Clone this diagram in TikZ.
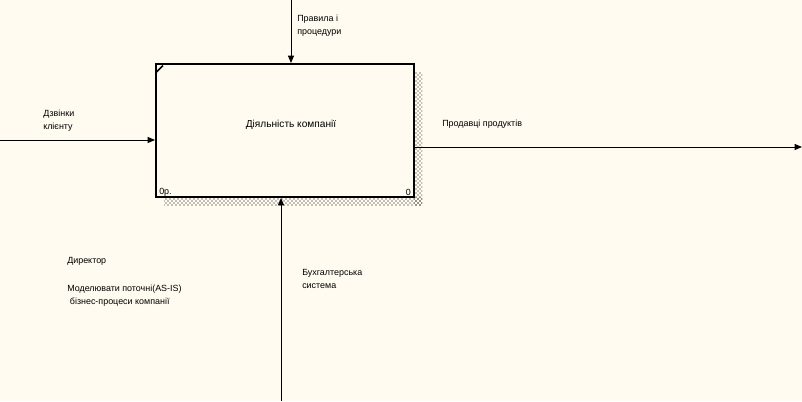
\documentclass[tikz,border=0pt]{standalone}
\usepackage{fontspec}
\setmainfont{Liberation Sans}
\usetikzlibrary{arrows.meta,patterns}
\definecolor{paper}{RGB}{255,251,240}
\tikzset{
  actbox/.style={draw=black,line width=1.5pt,fill=paper,minimum width=193.5pt,minimum height=99.75pt,inner sep=0pt},
  flow/.style={draw=black,line width=0.7pt,-{Triangle[length=5.5pt,width=4.5pt]}},
  lbl/.style={anchor=west,inner sep=0pt,align=left,font=\fontsize{6.7}{9.5}\selectfont},
  shade/.style={pattern=crosshatch dots,pattern color=black,draw=none}
}
\begin{document}
\begin{tikzpicture}[x=0.75pt,y=0.75pt,yscale=-1,xscale=1]
\useasboundingbox[fill=paper] (0,0) rectangle (802,401);

%Shadow
\path[shade] (414,72) rectangle (422,205);
\path[shade] (164,197) rectangle (422,205);

%Activity box
\node[actbox] (act) at (285,130.5) {};
\draw[line width=1.2pt] (156.5,72) -- (163,65.5);
\node[lbl,anchor=center,font=\fontsize{7.6}{10}\selectfont] (actname) at (291,125) {Діяльність компанії};
\node[lbl] (num) at (159,192) {0р.};
\node[lbl,anchor=east] (nodeno) at (411,192) {0};

%Ends of arrows
\coordinate (ctrl) at (291,0);
\coordinate (inp) at (0,140);
\coordinate (outp) at (802,147);
\coordinate (mech) at (281,401);

%Arrows
\draw[flow] (ctrl) -- (ctrl |- act.north);
\draw[flow] (inp) -- (inp -| act.west);
\draw[flow] (act.east |- outp) -- (outp);
\draw[flow] (mech) -- (mech |- act.south);

%Arrow labels
\node[lbl] (ctrllbl) at (297,26) {Правила і\\процедури};
\node[lbl] (inplbl) at (43,121) {Дзвінки\\клієнту};
\node[lbl] (outplbl) at (442,124) {Продавці продуктів};
\node[lbl] (mechlbl) at (302,279) {Бухгалтерська\\система};

% Text Node
\node[lbl] (who) at (67,261) {Директор};
\node[lbl] (aim) at (67,296) {Моделювати поточні(AS-IS)\\\hspace*{2pt}бізнес-процеси компанії};

\end{tikzpicture}
\end{document}
